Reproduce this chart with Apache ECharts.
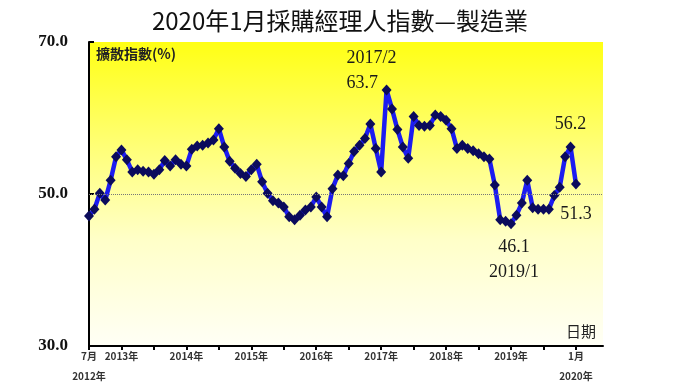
<!DOCTYPE html>
<html><head><meta charset="utf-8">
<script src="https://cdn.jsdelivr.net/npm/echarts@6/dist/echarts.min.js"></script>
<style>html,body{margin:0;padding:0;background:#fff}#c{width:680px;height:382px}</style>
</head><body><div id="c"></div>
<script>
// ---- data ----
const titleText = '2020年1月採購經理人指數—製造業';
const yAxisTitle = '擴散指數(%)';
const xAxisTitle = '日期';
const startYear = 2012, startMonth = 7, monthCount = 96; // 2012/7 .. 2020/6 axis span
const months = [];
for (let k = 0; k < monthCount; k++) {
  const m = (startMonth - 1 + k) % 12 + 1;
  const y = startYear + Math.floor((startMonth - 1 + k) / 12);
  months.push(y + '/' + m);
}
// PMI manufacturing, 2012/7 .. 2020/1
const pmi = [
  47.1, 48.0, 50.1, 49.2, 51.8, 54.9,             // 2012/7-12
  55.8, 54.5, 52.9, 53.2, 53.0, 52.9, 52.6, 53.2, 54.4, 53.7, 54.5, 53.9, // 2013
  53.7, 55.9, 56.3, 56.4, 56.7, 57.1, 58.6, 56.2, 54.3, 53.4, 52.7, 52.3, // 2014
  53.2, 53.9, 51.6, 50.1, 49.1, 48.8, 48.3, 47.0, 46.6, 47.2, 47.9, 48.3, // 2015
  49.6, 48.3, 47.0, 50.7, 52.5, 52.4, 54.0, 55.6, 56.4, 57.3, 59.2, 56.0, // 2016
  52.9, 63.7, 61.2, 58.5, 56.2, 54.7, 60.2, 59.0, 58.9, 59.0, 60.4, 60.2, // 2017
  59.7, 58.6, 56.0, 56.4, 56.0, 55.7, 55.3, 54.9, 54.6, 51.2, 46.6, 46.4, // 2018
  46.1, 47.2, 48.8, 51.8, 48.2, 48.0, 48.0, 48.0, 49.8, 50.9, 54.9, 56.2, // 2019
  51.3                                              // 2020/1
];
const tickLabelMonths = ['2012/7','2013/1','2014/1','2015/1','2016/1','2017/1','2018/1','2019/1','2020/1'];
const tickLabelTexts  = ['7月','2013年','2014年','2015年','2016年','2017年','2018年','2019年','1月'];
const yearLabelMonths = ['2012/7', '2020/1'];
const yearLabelTexts  = ['2012年', '2020年'];
const yMin = 30, yMax = 70, yStep = 20, refLine = 50;
const noteMonths = ['2017/2', '2019/1', '2019/12', '2020/1'];
const noteTexts  = ['2017/2\n63.7', '46.1\n2019/1', '56.2', '51.3'];

// ---- styles ----
const noteFont = {fontFamily: 'Liberation Serif', fontSize: 18, color: '#1a1a1a', lineHeight: 25, textBorderWidth: 0};
const notePlacement = [
  {position: 'inside', align: 'left', verticalAlign: 'bottom', offset: [-40, 6]},
  {position: 'bottom', distance: 6, offset: [3, 0]},
  {position: 'top', distance: 5},
  {position: 'bottom', distance: 12}
];
const tickFont = {fontFamily: 'Noto Sans CJK TC', fontSize: 10, fontWeight: 'bold', color: '#333'};

const seriesData = pmi.map((v, i) => {
  const n = noteMonths.indexOf(months[i]);
  if (n < 0) return v;
  return {value: v, label: Object.assign({show: true, formatter: noteTexts[n]}, noteFont, notePlacement[n])};
});

const pickLabel = (keys, texts) => (val) => { const k = keys.indexOf(val); return k >= 0 ? texts[k] : ''; };

const chart = echarts.init(document.getElementById('c'), null, {renderer: 'canvas'});
chart.setOption({
  animation: false,
  backgroundColor: '#ffffff',
  title: {
    text: titleText, left: 'center', top: 4,
    textStyle: {fontFamily: 'Noto Sans CJK TC', fontSize: 24, fontWeight: 'normal', color: '#111'}
  },
  grid: {
    left: 89, right: 77, top: 42, bottom: 36, show: true, borderWidth: 0,
    containLabel: false, outerBoundsMode: 'none',
    backgroundColor: new echarts.graphic.LinearGradient(0, 0, 0, 1, [
      {offset: 0, color: '#ffff14'},
      {offset: 0.35, color: '#ffff78'},
      {offset: 0.65, color: '#ffffc8'},
      {offset: 1, color: '#fffff6'}
    ])
  },
  xAxis: [{
    type: 'category', data: months, boundaryGap: false, position: 'bottom',
    axisLine: {lineStyle: {color: '#000', width: 2}},
    axisTick: {show: true, length: 4, lineStyle: {color: '#000', width: 2},
      interval: (idx) => idx % 6 === 0},
    axisLabel: Object.assign({
      interval: (idx, val) => tickLabelMonths.indexOf(val) >= 0,
      formatter: pickLabel(tickLabelMonths, tickLabelTexts),
      margin: 5, showMinLabel: true, hideOverlap: false
    }, tickFont),
    splitLine: {show: false}
  }, {
    type: 'category', data: months, boundaryGap: false, position: 'bottom', offset: 0,
    axisLine: {show: false}, axisTick: {show: false}, splitLine: {show: false},
    axisLabel: Object.assign({
      interval: (idx, val) => yearLabelMonths.indexOf(val) >= 0,
      formatter: pickLabel(yearLabelMonths, yearLabelTexts),
      margin: 25, showMinLabel: true, hideOverlap: false
    }, tickFont)
  }],
  yAxis: {
    type: 'value', min: yMin, max: yMax, interval: yStep,
    axisLine: {show: true, lineStyle: {color: '#000', width: 2}},
    axisTick: {show: true, inside: true, length: 5, lineStyle: {color: '#000', width: 2}},
    axisLabel: {formatter: (v) => v.toFixed(1), fontFamily: 'Liberation Serif', fontWeight: 'bold',
      fontSize: 17, color: '#111', margin: 21},
    splitLine: {show: false}
  },
  graphic: [
    {type: 'text', left: 96, top: 47, style: {text: yAxisTitle, font: 'bold 14px "Noto Sans CJK TC"', fill: '#222'}},
    {type: 'text', left: 566, top: 324, style: {text: xAxisTitle, font: '15px "Noto Sans CJK TC"', fill: '#222'}}
  ],
  series: [{
    type: 'line', data: seriesData, xAxisIndex: 0,
    symbol: 'diamond', symbolSize: [10, 11], showAllSymbol: true,
    lineStyle: {color: '#1c1cf0', width: 4.5},
    itemStyle: {color: '#0b0b5c', borderWidth: 0},
    label: {show: false},
    markLine: {
      silent: true, symbol: ['none', 'none'], label: {show: false},
      lineStyle: {type: 'dotted', color: '#777', width: 1},
      data: [{yAxis: refLine}]
    },
    z: 3
  }]
});
</script></body></html>
